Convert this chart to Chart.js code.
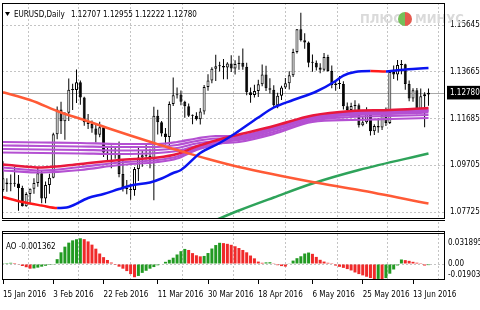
<!DOCTYPE html>
<html>
<head>
<meta charset="utf-8">
<script src="https://cdn.jsdelivr.net/npm/chart.js@4.4.1/dist/chart.umd.min.js"></script>
<style>
  html, body { margin: 0; padding: 0; background: #fff; }
  #wrap { position: relative; width: 480px; height: 310px; overflow: hidden; }
  #main { position: absolute; left: 0; top: 0; }
  #ao { position: absolute; left: 0; top: 222px; }
</style>
</head>
<body>
<div id="wrap">
  <canvas id="main" width="480" height="222"></canvas>
  <canvas id="ao" width="480" height="88"></canvas>
</div>
<script>
// bar index of each date label on the time axis
const tickIdx = [0, 13, 26, 40, 53, 66, 80, 93, 106];
const tickLabels = ['15 Jan 2016', '3 Feb 2016', '22 Feb 2016', '11 Mar 2016', '30 Mar 2016',
  '18 Apr 2016', '6 May 2016', '25 May 2016', '13 Jun 2016'];

// EURUSD daily candles, 15 Jan .. 17 Jun 2016
const opens = [1.0866,1.0898,1.0890,1.0892,1.0893,1.0874,1.0797,1.0849,1.0871,1.0895,
  1.0937,1.0830,1.0887,1.0918,1.1102,1.1207,1.1157,1.1193,1.1290,1.1289,
  1.1322,1.1258,1.1153,1.1145,1.1126,1.1100,1.1131,1.1025,1.1017,1.1014,
  1.1020,1.0933,1.0873,1.0870,1.0866,1.0955,1.1003,1.1013,1.1011,1.0995,
  1.1180,1.1153,1.1105,1.1090,1.1230,1.1267,1.1270,1.1240,1.1220,1.1180,
  1.1180,1.1165,1.1198,1.1302,1.1330,1.1379,1.1390,1.1391,1.1385,1.1402,
  1.1380,1.1399,1.1405,1.1388,1.1280,1.1268,1.1285,1.1314,1.1355,1.1297,
  1.1290,1.1225,1.1265,1.1300,1.1318,1.1352,1.1450,1.1546,1.1500,1.1490,
  1.1405,1.1405,1.1385,1.1375,1.1429,1.1370,1.1310,1.1317,1.1315,1.1220,
  1.1205,1.1222,1.1225,1.1140,1.1153,1.1193,1.1115,1.1137,1.1130,1.1185,
  1.1150,1.1365,1.1355,1.1395,1.1398,1.1315,1.1253,1.1288,1.1200,1.1263,
  1.12707];
const highs = [1.0987,1.0915,1.0931,1.0963,1.0929,1.0884,1.0856,1.0872,1.0915,1.0963,
  1.0950,1.0902,1.0935,1.1108,1.1219,1.1240,1.1195,1.1338,1.1316,1.1376,
  1.1329,1.1261,1.1188,1.1160,1.1143,1.1155,1.1132,1.1048,1.1054,1.1048,
  1.1071,1.0995,1.0908,1.0892,1.0963,1.1045,1.1035,1.1058,1.1040,1.1218,
  1.1206,1.1158,1.1128,1.1241,1.1342,1.1300,1.1287,1.1244,1.1232,1.1185,
  1.1195,1.1213,1.1310,1.1356,1.1386,1.1438,1.1409,1.1421,1.1407,1.1436,
  1.1415,1.1434,1.1465,1.1405,1.1300,1.1311,1.1333,1.1397,1.1392,1.1339,
  1.1309,1.1278,1.1307,1.1340,1.1369,1.1464,1.1548,1.1616,1.1530,1.1495,
  1.1440,1.1414,1.1403,1.1446,1.1438,1.1393,1.1331,1.1349,1.1326,1.1236,
  1.1235,1.1246,1.1232,1.1178,1.1216,1.1203,1.1144,1.1171,1.1202,1.1215,
  1.1374,1.1393,1.1416,1.1416,1.1400,1.1330,1.1297,1.1298,1.1296,1.1280,
  1.12955];
const lows = [1.0858,1.0858,1.0860,1.0880,1.0778,1.0796,1.0795,1.0812,1.0850,1.0880,
  1.0810,1.0810,1.0850,1.0915,1.1081,1.1103,1.1079,1.1158,1.1205,1.1234,
  1.1227,1.1138,1.1124,1.1108,1.1067,1.1089,1.1006,1.0985,1.0958,1.0998,
  1.0920,1.0859,1.0848,1.0824,1.0841,1.0904,1.0964,1.0995,1.0958,1.0822,
  1.1101,1.1092,1.1058,1.1053,1.1221,1.1253,1.1225,1.1172,1.1175,1.1144,
  1.1160,1.1143,1.1185,1.1286,1.1318,1.1327,1.1368,1.1335,1.1335,1.1366,
  1.1355,1.1375,1.1375,1.1267,1.1235,1.1258,1.1260,1.1305,1.1285,1.1274,
  1.1216,1.1212,1.1247,1.1293,1.1291,1.1344,1.1444,1.1495,1.1464,1.1386,
  1.1367,1.1372,1.1360,1.1369,1.1367,1.1297,1.1286,1.1294,1.1207,1.1182,
  1.1196,1.1198,1.1130,1.1136,1.1146,1.1097,1.1099,1.1108,1.1120,1.1137,
  1.1145,1.1336,1.1329,1.1356,1.1290,1.1242,1.1240,1.1187,1.1190,1.1131,
  1.12222];
const closes = [1.0915,1.0890,1.0892,1.0893,1.0874,1.0797,1.0849,1.0871,1.0895,1.0937,
  1.0830,1.0887,1.0918,1.1102,1.1207,1.1157,1.1193,1.1290,1.1289,1.1322,
  1.1258,1.1153,1.1145,1.1126,1.1100,1.1131,1.1025,1.1017,1.1014,1.1020,
  1.0933,1.0873,1.0870,1.0866,1.0955,1.1003,1.1013,1.1011,1.0995,1.1180,
  1.1153,1.1105,1.1090,1.1230,1.1267,1.1270,1.1240,1.1220,1.1180,1.1180,
  1.1165,1.1198,1.1302,1.1330,1.1379,1.1390,1.1391,1.1385,1.1402,1.1380,
  1.1399,1.1405,1.1388,1.1280,1.1268,1.1285,1.1314,1.1355,1.1297,1.1290,
  1.1225,1.1265,1.1300,1.1318,1.1352,1.1450,1.1546,1.1500,1.1490,1.1405,
  1.1405,1.1385,1.1375,1.1429,1.1370,1.1310,1.1317,1.1315,1.1220,1.1205,
  1.1222,1.1225,1.1140,1.1153,1.1193,1.1115,1.1137,1.1130,1.1185,1.1150,
  1.1365,1.1355,1.1395,1.1398,1.1315,1.1253,1.1288,1.1200,1.1263,1.1271,
  1.12780];

// blue/red moving average (bar index, value)
const maIdx = [0,5,10,14,17,22,26,30,33,38,41,44,46,51,56,60,66,70,75,81,86,88,91,95,99,102,106,110];
const maVals = [1.08360,1.08149,1.08000,1.07895,1.07937,1.08318,1.08488,1.08699,1.08848,1.08975,
  1.09144,1.09377,1.09504,1.10224,1.10648,1.11050,1.11728,1.12151,1.12469,1.12829,
  1.13273,1.13506,1.13655,1.13697,1.13680,1.13731,1.13782,1.13824];

// long falling average (orange) and rising one (green)
const orangeIdx = [0,7,15,21,27,39,45,53,61,80,92,110];
const orangeVals = [1.12795,1.12469,1.11939,1.11622,1.11283,1.10648,1.10351,1.09970,1.09631,1.08996,1.08657,1.08085];
const greenIdx = [54,61,70,80,92,110];
const greenVals = [1.07323,1.07789,1.08339,1.08932,1.09504,1.10203];

// ribbon of averages
const ribbonIdx = [0,10,20,30,40,45,50,55,61,70,80,90,100,110];
const ribbonRed = [1.09737,1.09610,1.09758,1.09928,1.10033,1.10182,1.10499,1.10753,1.11008,1.11367,1.11812,1.12003,1.12045,1.12130];
const ribbonU1 = [1.10690,1.10669,1.10648,1.10605,1.10605,1.10690,1.10838,1.10944,1.10944,1.11283,1.11728,1.11918,1.11960,1.12024];
const ribbonU2 = [1.10542,1.10521,1.10499,1.10478,1.10478,1.10563,1.10732,1.10838,1.10859,1.11198,1.11664,1.11833,1.11876,1.11939];
const ribbonU3 = [1.10393,1.10372,1.10351,1.10330,1.10351,1.10436,1.10626,1.10732,1.10775,1.11113,1.11600,1.11749,1.11791,1.11833];
const ribbonU4 = [1.10245,1.10224,1.10203,1.10182,1.10224,1.10309,1.10521,1.10626,1.10690,1.11029,1.11537,1.11622,1.11664,1.11706];
const ribbonL1 = [1.09610,1.09483,1.09631,1.09822,1.09928,1.10076,1.10415,1.10669,1.10902,1.11304,1.11749,1.11939,1.11982,1.12066];
const ribbonL2 = [1.09483,1.09398,1.09504,1.09716,1.09843,1.09991,1.10351,1.10584,1.10817,1.11219,1.11685,1.11876,1.11918,1.12003];

const priceTicks = [1.07725, 1.09705, 1.11685, 1.13665, 1.15645];

// Awesome Oscillator
const aoValues = [0.0010,0.0012,0.0015,0.0012,-0.0008,-0.0025,-0.0040,-0.0058,-0.0055,-0.0045,
  -0.0033,-0.0022,-0.0012,-0.0003,0.0060,0.0145,0.0215,0.0265,0.0293,0.0307,
  0.031895,0.0308,0.0280,0.0240,0.0190,0.0130,0.0085,0.0050,0.0018,-0.0012,
  -0.0033,-0.0058,-0.0088,-0.0125,-0.0164,-0.0148,-0.0110,-0.0084,-0.0058,-0.0038,
  -0.0016,0.0006,0.0027,0.0052,0.0078,0.0118,0.0159,0.0187,0.0174,0.0135,
  0.0108,0.0095,0.0100,0.0136,0.0192,0.0235,0.0263,0.0259,0.0250,0.0238,
  0.0220,0.0198,0.0174,0.0145,0.0105,0.0070,0.0030,0.0015,0.0020,0.0022,
  0.0003,-0.0015,-0.0026,-0.0032,0.0008,0.0042,0.0072,0.0096,0.0130,0.0142,
  0.0126,0.0088,0.0052,0.0030,0.0015,0.0002,-0.0020,-0.0035,-0.0048,-0.0063,
  -0.0080,-0.0105,-0.0125,-0.0141,-0.0158,-0.0174,-0.0187,-0.0185,-0.019034,-0.0175,
  -0.0120,-0.0068,-0.0018,0.0056,0.0048,0.0039,0.0027,0.0016,0.0002,-0.0019,
  -0.001362];
const aoTicks = [0.031895, 0, -0.019034];

const last = closes.length - 1;
const bid = closes[last];
const xMin = -0.26, xMax = 114.27;
const gridIdx = tickIdx.map((t, k) => k < tickIdx.length - 1 ? (t + tickIdx[k + 1]) / 2 : t + 6.5);

// pick a narrow face, the screenshot text is condensed
function hasFont(name) {
  const c = document.createElement('canvas').getContext('2d');
  const s = 'EURUSD 15 Jan 2016 1.12780';
  c.font = '20px monospace';
  const a = c.measureText(s).width;
  c.font = '20px "' + name + '", monospace';
  return c.measureText(s).width !== a;
}
let FAM = "'Liberation Sans', sans-serif", FS = 8;
if (hasFont('Liberation Sans Narrow')) { FAM = "'Liberation Sans Narrow'"; FS = 9.5; }
else if (hasFont('DejaVu Sans Condensed')) { FAM = "'DejaVu Sans Condensed'"; FS = 8; }
Chart.defaults.font.family = FAM;
Chart.defaults.font.size = FS;
Chart.defaults.color = '#000';

const GRID = '#c4c4c4';
const PURPLE = '#b450d2';
const pts = (idx, vals) => idx.map((k, i) => ({x: k, y: vals[i]}));
const noPad = s => { s.paddingTop = 0; s.paddingBottom = 0; s.paddingLeft = 0; s.paddingRight = 0; };

function line(data, color, width, order) {
  return {type: 'line', data: data, borderColor: color, borderWidth: width, pointRadius: 0,
    fill: false, cubicInterpolationMode: 'monotone', order: order};
}

const gridAxis = {
  type: 'linear', axis: 'x', position: 'bottom', min: xMin, max: xMax, offset: false,
  afterBuildTicks: s => { s.ticks = gridIdx.map(v => ({value: v})); },
  afterFit: s => { s.height = 0; noPad(s); },
  ticks: {display: false},
  grid: {color: GRID, drawTicks: false, offset: false},
  border: {display: false, dash: [2, 2]}
};

const mainDeco = {
  id: 'mainDeco',
  beforeDatasetsDraw(chart) {
    const {ctx, chartArea: a, scales} = chart;
    const py = Math.round(scales.y.getPixelForValue(bid)) + 0.5;
    ctx.save();
    ctx.strokeStyle = '#a8a8a8';
    ctx.lineWidth = 1;
    ctx.beginPath(); ctx.moveTo(a.left, py); ctx.lineTo(a.right, py); ctx.stroke();
    ctx.restore();
  },
  afterDraw(chart) {
    const {ctx, chartArea: a} = chart;
    ctx.save();
    // watermark
    ctx.font = 'bold 13px ' + FAM;
    ctx.textBaseline = 'middle';
    ctx.fillStyle = '#dadada';
    ctx.fillText('ПЛЮС', 360, 20);
    ctx.fillText('МИНУС', 415, 20);
    ctx.fillStyle = '#74c05a';
    ctx.beginPath(); ctx.arc(405, 19, 7, Math.PI / 2, Math.PI * 1.5); ctx.fill();
    ctx.fillStyle = '#e45a4e';
    ctx.beginPath(); ctx.arc(405, 19, 7, -Math.PI / 2, Math.PI / 2); ctx.fill();
    // frame
    ctx.strokeStyle = '#000';
    ctx.lineWidth = 1;
    ctx.strokeRect(a.left + 0.5, a.top + 0.5, a.right - a.left - 1, a.bottom - a.top - 1);
    ctx.beginPath(); ctx.moveTo(a.left, a.bottom + 1.5); ctx.lineTo(a.right, a.bottom + 1.5); ctx.stroke();
    // header
    ctx.fillStyle = '#000';
    ctx.beginPath();
    ctx.moveTo(a.left + 3, a.top + 9); ctx.lineTo(a.left + 8, a.top + 9); ctx.lineTo(a.left + 5.5, a.top + 13);
    ctx.closePath(); ctx.fill();
    ctx.font = FS + 'px ' + FAM;
    ctx.fillText('EURUSD,Daily', a.left + 12, a.top + 12);
    const ohlc = [opens[last], highs[last], lows[last], closes[last]].map(v => v.toFixed(5)).join(' ');
    ctx.fillText(ohlc, a.left + 69, a.top + 12);
    ctx.restore();
  }
};

new Chart(document.getElementById('main'), {
  type: 'bar',
  data: {
    datasets: [
      Object.assign(line(pts(maIdx, maVals), '#0a14f0', 2.5, 0), {
        // red while falling, blue while rising
        segment: {borderColor: c => c.p1.parsed.y < c.p0.parsed.y ? '#ff1a1a' : '#0a14f0'}
      }),
      line(pts(orangeIdx, orangeVals), '#ff5a36', 2.5, 1),
      line(pts(greenIdx, greenVals), '#2ea35a', 2.5, 1),
      line(pts(ribbonIdx, ribbonRed), '#e8183c', 2.5, 2),
      line(pts(ribbonIdx, ribbonL1), PURPLE, 2.2, 3),
      line(pts(ribbonIdx, ribbonL2), PURPLE, 2.2, 3),
      line(pts(ribbonIdx, ribbonU1), PURPLE, 2.2, 3),
      line(pts(ribbonIdx, ribbonU2), PURPLE, 2.2, 3),
      line(pts(ribbonIdx, ribbonU3), PURPLE, 2.2, 3),
      line(pts(ribbonIdx, ribbonU4), PURPLE, 2.2, 3),
      {
        type: 'bar', order: 5, grouped: false, barThickness: 3, minBarLength: 1,
        data: opens.map((o, i) => ({x: i, y: [o, closes[i]]})),
        backgroundColor: c => closes[c.dataIndex] >= opens[c.dataIndex] ? '#fff' : '#000',
        borderColor: '#000', borderWidth: 1, borderSkipped: false, inflateAmount: 0
      },
      {
        type: 'bar', order: 6, grouped: false, barThickness: 1,
        data: lows.map((l, i) => ({x: i, y: [l, highs[i]]})),
        backgroundColor: '#000', borderWidth: 0, inflateAmount: 0
      }
    ]
  },
  options: {
    responsive: false,
    animation: false,
    events: [],
    layout: {padding: {left: 2, top: 3, right: 0, bottom: 3}},
    plugins: {legend: {display: false}, tooltip: {enabled: false}},
    scales: {
      x: {type: 'linear', min: xMin, max: xMax, offset: false, display: false, grid: {offset: false}},
      x2: gridAxis,
      y: {
        position: 'right', min: 1.07429, max: 1.16577,
        afterBuildTicks: s => { s.ticks = priceTicks.concat([bid]).map(v => ({value: v})); },
        afterFit: s => { s.width = 35; noPad(s); },
        ticks: {
          autoSkip: false, padding: 5,
          callback: v => v.toFixed(5),
          color: c => c.tick && c.tick.value === bid ? '#fff' : '#000',
          showLabelBackdrop: c => !!(c.tick && c.tick.value === bid),
          backdropColor: '#000',
          backdropPadding: {left: 3, right: 8, top: 2, bottom: 2}
        },
        grid: {color: c => c.tick && c.tick.value === bid ? 'transparent' : GRID, drawTicks: false},
        border: {display: false, dash: [2, 2]}
      }
    }
  },
  plugins: [mainDeco]
});

const aoDeco = {
  id: 'aoDeco',
  afterDraw(chart) {
    const {ctx, chartArea: a} = chart;
    const top = a.top + 9.5;
    ctx.save();
    ctx.strokeStyle = '#000';
    ctx.lineWidth = 1;
    ctx.beginPath();
    ctx.moveTo(a.left, top); ctx.lineTo(a.right, top);
    ctx.moveTo(a.left, top + 2); ctx.lineTo(a.right, top + 2);
    ctx.moveTo(a.left + 0.5, top); ctx.lineTo(a.left + 0.5, a.bottom);
    ctx.moveTo(a.right - 0.5, top); ctx.lineTo(a.right - 0.5, a.bottom);
    ctx.moveTo(a.left, a.bottom - 0.5); ctx.lineTo(a.right, a.bottom - 0.5);
    ctx.stroke();
    ctx.fillStyle = '#000';
    ctx.font = FS + 'px ' + FAM;
    ctx.textBaseline = 'middle';
    ctx.fillText('AO ' + aoValues[last].toFixed(6), a.left + 4, a.top + 25);
    ctx.restore();
  }
};

new Chart(document.getElementById('ao'), {
  type: 'bar',
  data: {
    datasets: [{
      data: aoValues.map((v, i) => ({x: i, y: v})),
      backgroundColor: c => (c.dataIndex > 0 && aoValues[c.dataIndex] < aoValues[c.dataIndex - 1]) ? '#f02a2a' : '#229a22',
      barThickness: 3, grouped: false, borderWidth: 0, inflateAmount: 0
    }]
  },
  options: {
    responsive: false,
    animation: false,
    events: [],
    layout: {padding: {left: 2, top: 0, right: 0, bottom: 0}},
    plugins: {legend: {display: false}, tooltip: {enabled: false}},
    scales: {
      x: {
        type: 'linear', position: 'bottom', min: xMin, max: xMax, offset: false,
        afterBuildTicks: s => { s.ticks = tickIdx.map(v => ({value: v})); },
        afterFit: s => { s.height = 30; noPad(s); },
        ticks: {autoSkip: false, maxRotation: 0, align: 'start', padding: 6.5,
          callback: v => tickLabels[tickIdx.indexOf(v)]},
        grid: {drawOnChartArea: false, drawTicks: true, tickLength: 4, color: '#000', offset: false},
        border: {display: false}
      },
      x2: gridAxis,
      y: {
        position: 'right', min: -0.01984, max: 0.05208,
        afterBuildTicks: s => { s.ticks = aoTicks.map(v => ({value: v})); },
        afterFit: s => { s.width = 35; noPad(s); },
        ticks: {autoSkip: false, padding: 3,
          callback: v => v === 0 ? '0.00' : (v > 0 ? ['', v.toFixed(6)] : [v.toFixed(6), ''])},
        grid: {color: c => c.tick && c.tick.value === 0 ? GRID : 'transparent', drawTicks: false},
        border: {display: false, dash: [2, 2]}
      }
    }
  },
  plugins: [aoDeco]
});
</script>
</body>
</html>
